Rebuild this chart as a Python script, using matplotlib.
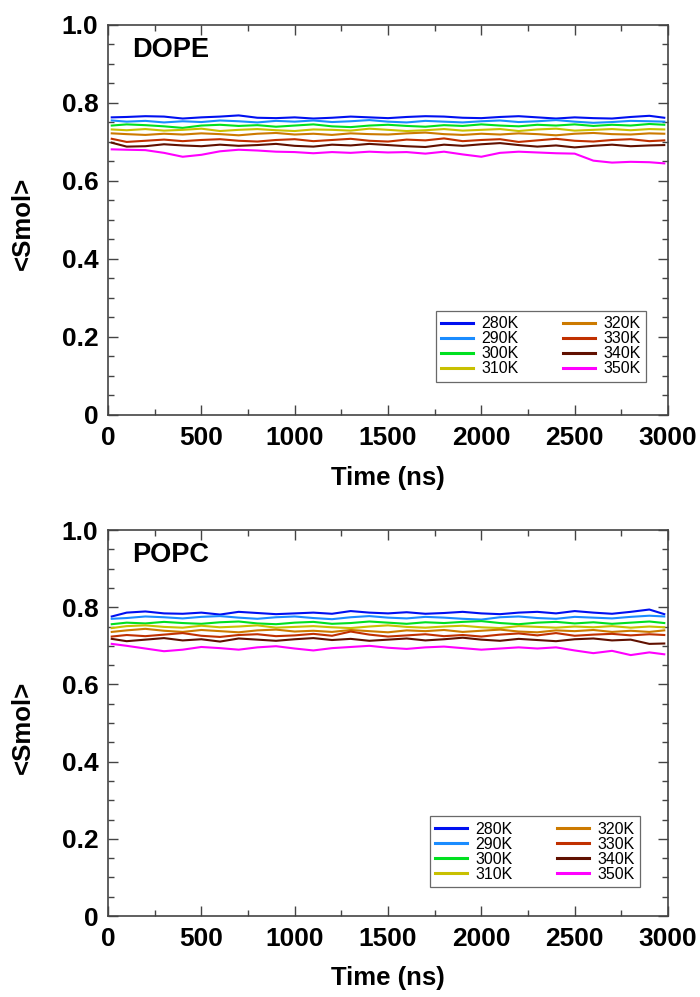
import numpy as np
import matplotlib
matplotlib.use("Agg")
import matplotlib.pyplot as plt
from matplotlib.ticker import MultipleLocator, FuncFormatter

plt.rcParams['font.family'] = ['Liberation Sans', 'DejaVu Sans']

# time grid (ns), values every ~100 ns
time_ns = [20, 100, 200, 300, 400, 500, 600, 700, 800, 900, 1000, 1100, 1200, 1300, 1400,
           1500, 1600, 1700, 1800, 1900, 2000, 2100, 2200, 2300, 2400, 2500, 2600, 2700,
           2800, 2900, 2980]

temps = ["280K", "290K", "300K", "310K", "320K", "330K", "340K", "350K"]
colors = ["#0010f0", "#1a8cff", "#00e020", "#c8c000", "#cc7a00", "#c03000", "#601000", "#ff00ff"]

dope_280 = [0.763, 0.764, 0.766, 0.765, 0.760, 0.763, 0.765, 0.768, 0.762, 0.761, 0.763, 0.760, 0.762, 0.765, 0.763,
            0.761, 0.764, 0.766, 0.765, 0.762, 0.761, 0.764, 0.766, 0.763, 0.760, 0.763, 0.761, 0.760, 0.764, 0.767, 0.762]
dope_290 = [0.755, 0.752, 0.754, 0.750, 0.753, 0.751, 0.755, 0.753, 0.750, 0.754, 0.752, 0.755, 0.751, 0.753, 0.756,
            0.752, 0.750, 0.754, 0.752, 0.750, 0.753, 0.755, 0.751, 0.753, 0.756, 0.752, 0.749, 0.751, 0.754, 0.753, 0.752]
dope_300 = [0.742, 0.745, 0.743, 0.740, 0.736, 0.742, 0.744, 0.741, 0.743, 0.739, 0.742, 0.745, 0.740, 0.738, 0.742,
            0.744, 0.741, 0.739, 0.743, 0.741, 0.745, 0.742, 0.740, 0.744, 0.742, 0.745, 0.741, 0.744, 0.742, 0.746, 0.744]
dope_310 = [0.732, 0.730, 0.733, 0.729, 0.731, 0.734, 0.728, 0.731, 0.733, 0.730, 0.728, 0.732, 0.731, 0.729, 0.734,
            0.731, 0.728, 0.730, 0.733, 0.729, 0.731, 0.733, 0.728, 0.732, 0.734, 0.729, 0.731, 0.733, 0.730, 0.733, 0.732]
dope_320 = [0.722, 0.720, 0.718, 0.721, 0.719, 0.722, 0.720, 0.717, 0.721, 0.723, 0.719, 0.721, 0.718, 0.722, 0.720,
            0.719, 0.722, 0.724, 0.720, 0.718, 0.721, 0.719, 0.722, 0.720, 0.717, 0.721, 0.723, 0.720, 0.719, 0.722, 0.721]
dope_330 = [0.708, 0.700, 0.703, 0.706, 0.702, 0.705, 0.707, 0.703, 0.701, 0.705, 0.707, 0.702, 0.705, 0.708, 0.703,
            0.701, 0.706, 0.704, 0.709, 0.702, 0.705, 0.707, 0.700, 0.704, 0.708, 0.703, 0.701, 0.705, 0.707, 0.702, 0.704]
dope_340 = [0.698, 0.688, 0.689, 0.694, 0.691, 0.689, 0.693, 0.690, 0.692, 0.695, 0.690, 0.688, 0.693, 0.691, 0.695,
            0.692, 0.689, 0.687, 0.693, 0.690, 0.694, 0.697, 0.692, 0.688, 0.691, 0.686, 0.690, 0.693, 0.689, 0.691, 0.692]
dope_350 = [0.681, 0.680, 0.679, 0.672, 0.662, 0.667, 0.676, 0.680, 0.678, 0.675, 0.674, 0.671, 0.674, 0.672, 0.675,
            0.673, 0.674, 0.670, 0.675, 0.668, 0.662, 0.672, 0.675, 0.673, 0.671, 0.670, 0.652, 0.647, 0.649, 0.648, 0.645]

popc_280 = [0.776, 0.786, 0.789, 0.784, 0.783, 0.786, 0.781, 0.788, 0.785, 0.782, 0.784, 0.786, 0.783, 0.790, 0.786,
            0.784, 0.787, 0.783, 0.785, 0.788, 0.784, 0.782, 0.786, 0.788, 0.784, 0.790, 0.786, 0.783, 0.788, 0.794, 0.782]
popc_290 = [0.770, 0.772, 0.776, 0.774, 0.771, 0.775, 0.777, 0.773, 0.770, 0.774, 0.776, 0.772, 0.769, 0.774, 0.777,
            0.773, 0.771, 0.775, 0.773, 0.770, 0.768, 0.774, 0.776, 0.772, 0.770, 0.775, 0.773, 0.771, 0.775, 0.778, 0.776]
popc_300 = [0.756, 0.760, 0.758, 0.762, 0.759, 0.757, 0.761, 0.763, 0.758, 0.756, 0.760, 0.762, 0.757, 0.759, 0.763,
            0.760, 0.757, 0.761, 0.759, 0.762, 0.764, 0.759, 0.756, 0.760, 0.762, 0.758, 0.761, 0.757, 0.760, 0.763, 0.759]
popc_310 = [0.746, 0.751, 0.753, 0.749, 0.747, 0.752, 0.748, 0.750, 0.753, 0.747, 0.749, 0.751, 0.748, 0.746, 0.750,
            0.753, 0.749, 0.747, 0.750, 0.752, 0.748, 0.746, 0.751, 0.749, 0.747, 0.750, 0.748, 0.751, 0.747, 0.750, 0.748]
popc_320 = [0.736, 0.740, 0.744, 0.739, 0.736, 0.741, 0.738, 0.735, 0.740, 0.742, 0.737, 0.739, 0.736, 0.741, 0.738,
            0.735, 0.740, 0.738, 0.741, 0.736, 0.739, 0.742, 0.737, 0.735, 0.740, 0.738, 0.741, 0.736, 0.739, 0.736, 0.740]
popc_330 = [0.724, 0.728, 0.725, 0.729, 0.733, 0.726, 0.723, 0.728, 0.730, 0.725, 0.727, 0.731, 0.726, 0.737, 0.729,
            0.724, 0.727, 0.730, 0.725, 0.728, 0.724, 0.729, 0.732, 0.727, 0.733, 0.726, 0.729, 0.731, 0.727, 0.730, 0.728]
popc_340 = [0.718, 0.712, 0.716, 0.720, 0.714, 0.717, 0.711, 0.719, 0.716, 0.713, 0.717, 0.720, 0.715, 0.718, 0.713,
            0.716, 0.719, 0.714, 0.717, 0.721, 0.716, 0.713, 0.718, 0.715, 0.712, 0.717, 0.719, 0.714, 0.716, 0.705, 0.706]
popc_350 = [0.705, 0.700, 0.693, 0.686, 0.690, 0.697, 0.694, 0.690, 0.696, 0.699, 0.693, 0.688, 0.694, 0.697, 0.700,
            0.695, 0.692, 0.696, 0.698, 0.694, 0.690, 0.693, 0.696, 0.693, 0.696, 0.688, 0.681, 0.687, 0.676, 0.683, 0.678]

dope = [dope_280, dope_290, dope_300, dope_310, dope_320, dope_330, dope_340, dope_350]
popc = [popc_280, popc_290, popc_300, popc_310, popc_320, popc_330, popc_340, popc_350]

fig = plt.figure(figsize=(7, 9.97), dpi=100)
ax_top = fig.add_axes([0.1543, 0.5838, 0.8, 0.3912])
ax_bot = fig.add_axes([0.1543, 0.0812, 0.8, 0.3872])


def style_panel(ax, series, name, leg_anchor):
    for vals, lab, c in zip(series, temps, colors):
        ax.plot(time_ns, vals, color=c, lw=1.5, label=lab)
    ax.set_xlim(0, 3000)
    ax.set_ylim(0, 1.0)
    ax.xaxis.set_major_locator(MultipleLocator(500))
    ax.xaxis.set_minor_locator(MultipleLocator(250))
    ax.yaxis.set_major_locator(MultipleLocator(0.2))
    ax.yaxis.set_minor_locator(MultipleLocator(0.05))
    ax.yaxis.set_major_formatter(FuncFormatter(lambda v, p: "0" if abs(v) < 1e-9 else "%.1f" % v))
    ax.tick_params(which='both', direction='in', top=True, right=True, color='#444444', width=1)
    ax.tick_params(which='major', length=7, labelsize=19)
    ax.tick_params(axis='x', which='major', pad=8)
    ax.tick_params(axis='y', which='major', pad=7)
    ax.tick_params(which='minor', length=4)
    for lbl in ax.get_xticklabels() + ax.get_yticklabels():
        lbl.set_fontweight('bold')
    for sp in ax.spines.values():
        sp.set_color('#444444')
        sp.set_linewidth(1.2)
    ax.set_xlabel("Time (ns)", fontsize=18.5, fontweight='bold')
    ax.set_ylabel("<Smol>", fontsize=18.5, fontweight='bold')
    ax.xaxis.set_label_coords(0.5, -0.13)
    ax.yaxis.set_label_coords(-0.13, 0.49)
    ax.text(0.043, 0.935, name, transform=ax.transAxes, fontsize=19.5, fontweight='bold',
            va='center', ha='left')
    leg = ax.legend(ncol=2, loc='lower right', bbox_to_anchor=leg_anchor, fontsize=11.5,
                    frameon=True, fancybox=False, handlelength=2.0, handletextpad=0.5,
                    columnspacing=2.8, labelspacing=0.0, borderpad=0.35, borderaxespad=0)
    leg.get_frame().set_edgecolor('#444444')
    leg.get_frame().set_linewidth(0.9)
    for h in leg.get_lines():
        h.set_linewidth(2.2)


style_panel(ax_top, dope, "DOPE", (0.961, 0.085))
style_panel(ax_bot, popc, "POPC", (0.95, 0.075))

fig.savefig("out.png", dpi=100)
